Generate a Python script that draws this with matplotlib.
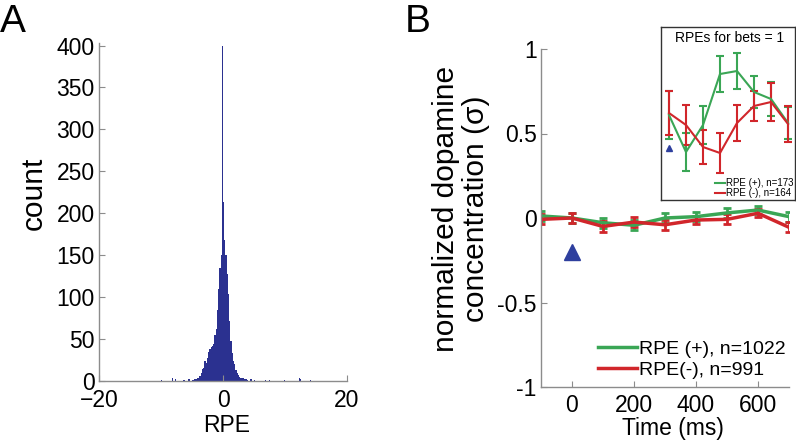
import numpy as np
import matplotlib.pyplot as plt

plt.rcParams['font.family'] = ['Liberation Sans', 'DejaVu Sans']

# ---- panel A: histogram of RPE (bins of 0.2 from -5 to 4)
bin_edges = np.arange(-5.0, 4.0001, 0.2)
counts = [1, 1, 2, 2, 3,
          4, 6, 10, 14, 16,
          24, 22, 28, 35, 38,
          40, 42, 44, 55, 62,
          85, 110, 135, 150, 400,
          213, 168, 150, 128, 104,
          72, 48, 33, 24, 20,
          13, 9, 7, 5, 4,
          4, 3, 2, 2, 1]
tail_rpe = [-9.9, -8.1, -7.7, -6.3, -5.5, 4.5, 5.1, 6.8, 7.5, 9.9, 12.3, 12.5, 14.1]
tail_count = [1, 3, 2, 1, 2, 2, 1, 1, 1, 1, 3, 2, 1]

# ---- panel B: dopamine traces
t = [-100, 0, 100, 200, 300, 400, 500, 600, 700]
pos_mean = [0.012, 0.0, -0.028, -0.043, 0.0, 0.008, 0.03, 0.047, 0.008]
pos_err = [0.03, 0.03, 0.03, 0.03, 0.03, 0.025, 0.03, 0.025, 0.03]
neg_mean = [-0.008, 0.0, -0.05, -0.024, -0.04, -0.012, -0.008, 0.028, -0.055]
neg_err = [0.03, 0.03, 0.03, 0.03, 0.03, 0.025, 0.03, 0.025, 0.03]

# inset: RPEs for bets = 1
t_in = [0, 100, 200, 300, 400, 500, 600, 700]
pos_in = [0.85, 0.48, 0.75, 1.26, 1.29, 1.08, 1.01, 0.77]
pos_in_err = [0.24, 0.19, 0.19, 0.18, 0.18, 0.16, 0.17, 0.16]
neg_in = [0.87, 0.75, 0.53, 0.47, 0.77, 0.94, 0.98, 0.76]
neg_in_err = [0.22, 0.20, 0.17, 0.20, 0.18, 0.15, 0.19, 0.18]

green = '#3aa655'
red = '#d1262b'
navy = '#2b3190'
gray = '#8c8c8c'

fig = plt.figure(figsize=(7.96, 4.42), dpi=100)

def style(ax, xpad):
    for s in ['top', 'right']:
        ax.spines[s].set_visible(False)
    for s in ['left', 'bottom']:
        ax.spines[s].set_color(gray)
        ax.spines[s].set_linewidth(1)
    ax.tick_params(direction='in', length=4, color=gray, labelsize=16.5, pad=3)
    ax.tick_params(axis='x', pad=xpad)

# A
axA = fig.add_axes([99/796, 61/442, 248/796, 338/442])
axA.stairs(counts, bin_edges, fill=True, color=navy)
axA.bar(tail_rpe, tail_count, width=0.2, color=navy)
axA.set_xlim(-20, 20)
axA.set_ylim(0, 403)
axA.set_xticks([-20, 0, 20])
axA.set_yticks(range(0, 401, 50))
style(axA, 6)
axA.set_xlabel('RPE', fontsize=16.5)
axA.xaxis.set_label_coords(0.516, -0.098)
axA.set_ylabel('count', fontsize=21.5)
axA.yaxis.set_label_coords(-0.206, 0.556)
fig.text(0.0, 0.99, 'A', fontsize=28, va='top', ha='left')

# B
axB = fig.add_axes([541/796, 55/442, 248/796, 338/442])
axB.errorbar(t, pos_mean, yerr=pos_err, color=green, lw=2.5, capsize=3,
             capthick=2, elinewidth=2, label='RPE (+), n=1022')
axB.errorbar(t, neg_mean, yerr=neg_err, color=red, lw=2.5, capsize=3,
             capthick=2, elinewidth=2, label='RPE(-), n=991')
axB.plot([0], [-0.2], marker='^', color='#2e3f9e', markersize=12, ls='none')
axB.set_xlim(-100, 700)
axB.set_ylim(-1, 1)
axB.set_xticks([0, 200, 400, 600])
axB.set_yticks([-1, -0.5, 0, 0.5, 1])
axB.set_yticklabels(['-1', '-0.5', '0', '0.5', '1'])
style(axB, 5)
axB.set_xlabel('Time (ms)', fontsize=16.5)
axB.xaxis.set_label_coords(0.532, -0.09)
axB.set_ylabel('normalized dopamine\nconcentration (σ)', fontsize=21.5, linespacing=1.1)
axB.yaxis.set_label_coords(-0.206, 0.527)
h, l = axB.get_legend_handles_labels()
h = [x[0] for x in h]
axB.legend(h, l, loc='lower right', frameon=False, fontsize=14, handlelength=2.0,
           handletextpad=0.1, borderaxespad=0.0, labelspacing=0.15, borderpad=0.0,
           bbox_to_anchor=(0.985, 0.025))
fig.text(405/796, 0.99, 'B', fontsize=28, va='top', ha='left')

# inset
axI = fig.add_axes([661/796, 242/442, 134/796, 173/442])
axI.errorbar(t_in, pos_in, yerr=pos_in_err, color=green, lw=1.5, capsize=3,
             capthick=1.5, elinewidth=1.5, label='RPE (+), n=173')
axI.errorbar(t_in, neg_in, yerr=neg_in_err, color=red, lw=1.5, capsize=3,
             capthick=1.5, elinewidth=1.5, label='RPE (-), n=164')
axI.plot([0], [0.52], marker='^', color='#2e3f9e', markersize=4, ls='none')
axI.set_xlim(-47, 741)
axI.set_ylim(0, 1.73)
axI.set_xticks([])
axI.set_yticks([])
for s in axI.spines.values():
    s.set_color('#333333')
    s.set_linewidth(1)
axI.text(0.51, 0.935, 'RPEs for bets = 1', transform=axI.transAxes,
         ha='center', va='center', fontsize=10)
h, l = axI.get_legend_handles_labels()
h = [x[0] for x in h]
axI.legend(h, l, loc='lower right', frameon=False, fontsize=7, handlelength=1.0,
           handletextpad=0.1, borderaxespad=0.1, labelspacing=0.0,
           borderpad=0.1)

fig.savefig('out.png', dpi=100)
